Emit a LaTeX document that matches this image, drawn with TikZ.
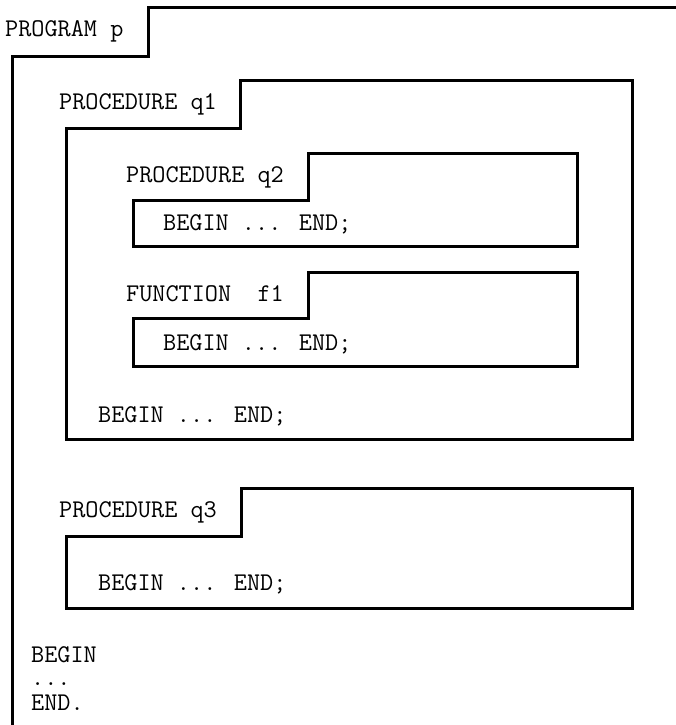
\documentclass[tikz,border=0pt]{standalone}
\usepackage{fontspec}
\usetikzlibrary{positioning}

\begin{document}
\begin{tikzpicture}[
    x=1pt, y=-1pt,
    frame/.style={draw=black, line width=3pt, line join=miter},
    code/.style={anchor=base west, inner sep=0pt,
      font=\ttfamily\fontsize{25.5}{27}\selectfont}
  ]
  \useasboundingbox (0,0) rectangle (676,725);

  % program p
  \draw[frame] (12,725) -- (12,57) -- (148,57) -- (148,8) -- (676,8);
  \node[code] (prog) at (5,37) {PROGRAM p};

  % procedure q1
  \draw[frame] (240,80) -- (632,80) -- (632,439) -- (66,439) -- (66,128) -- (240,128) -- cycle;
  \node[code] (qone) at (59,109) {PROCEDURE q1};
  \node[code] (qonebody) at (98,422) {BEGIN ... END;};

  % procedure q2
  \draw[frame] (308,153) -- (577,153) -- (577,246) -- (133,246) -- (133,200) -- (308,200) -- cycle;
  \node[code] (qtwo) at (126,182) {PROCEDURE q2};
  \node[code] (qtwobody) at (163,230) {BEGIN ... END;};

  % function f1
  \draw[frame] (308,272) -- (577,272) -- (577,366) -- (133,366) -- (133,318) -- (308,318) -- cycle;
  \node[code] (fone) at (126,301) {FUNCTION~~f1};
  \node[code] (fonebody) at (163,350) {BEGIN ... END;};

  % procedure q3
  \draw[frame] (241,488) -- (632,488) -- (632,608) -- (66,608) -- (66,536) -- (241,536) -- cycle;
  \node[code] (qthree) at (59,517) {PROCEDURE q3};
  \node[code] (qthreebody) at (98,590) {BEGIN ... END;};

  % main body
  \node[code] (mainbegin) at (31,662) {BEGIN};
  \node[code] (maindots) at (31,685) {...};
  \node[code] (mainend) at (31,710) {END.};
\end{tikzpicture}
\end{document}
